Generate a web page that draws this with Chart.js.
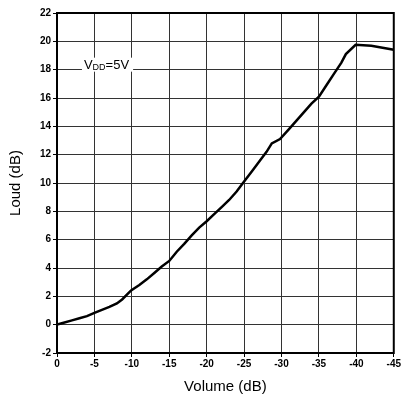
<!DOCTYPE html>
<html>
<head>
<meta charset="utf-8">
<script src="https://cdn.jsdelivr.net/npm/chart.js@4/dist/chart.umd.min.js"></script>
<style>
  html, body { margin: 0; padding: 0; background: #fff; }
  #wrap { width: 402px; height: 401px; }
</style>
</head>
<body>
<div id="wrap"><canvas id="myChart" width="402" height="401"></canvas></div>
<script>
// values
var volume = [0, -1, -2, -3, -4, -5, -6, -7, -8, -8.7, -9.9, -11, -12, -13, -14, -15,
              -16, -17, -18, -19, -20, -21, -22, -23, -24, -25, -26, -27, -28, -28.7,
              -29.8, -31, -32, -33, -34, -35, -36, -37, -38, -38.6, -39.9, -42, -45];
var loud = [0, 0.15, 0.3, 0.45, 0.6, 0.83, 1.05, 1.25, 1.5, 1.78, 2.42, 2.8, 3.2, 3.65, 4.1, 4.5,
            5.15, 5.7, 6.3, 6.85, 7.3, 7.8, 8.3, 8.8, 9.4, 10.1, 10.8, 11.5, 12.2, 12.8,
            13.1, 13.8, 14.4, 15.0, 15.6, 16.1, 16.9, 17.7, 18.5, 19.1, 19.76, 19.68, 19.4];
var xTicks = [0, -5, -10, -15, -20, -25, -30, -35, -40, -45];
var yTicks = [-2, 0, 2, 4, 6, 8, 10, 12, 14, 16, 18, 20, 22];
var noteText = ['V', 'DD', '=5V'];

document.addEventListener('DOMContentLoaded', drawChart);

function drawChart(){
    var points = [];
    for (var i = 0; i < volume.length; i++) {
        points.push({x: volume[i], y: loud[i]});
    }

    var frame = {
        id: 'frame',
        afterDatasetsDraw: function(chart){
            var c = chart.ctx, a = chart.chartArea;
            c.save();
            // note label with white box over the grid
            var xs = chart.scales.x, ys = chart.scales.y;
            var px = xs.getPixelForValue(-3.6), py = ys.getPixelForValue(18);
            c.font = '13px "Liberation Sans", Arial, sans-serif';
            var w1 = c.measureText(noteText[0]).width;
            c.font = '9px "Liberation Sans", Arial, sans-serif';
            var w2 = c.measureText(noteText[1]).width;
            c.font = '13px "Liberation Sans", Arial, sans-serif';
            var w3 = c.measureText(noteText[2]).width;
            c.fillStyle = '#fff';
            c.fillRect(px - 2, py - 12, w1 + w2 + w3 + 6, 14);
            c.fillStyle = '#000';
            c.textBaseline = 'alphabetic';
            c.fillText(noteText[0], px, py - 1);
            c.font = '9px "Liberation Sans", Arial, sans-serif';
            c.fillText(noteText[1], px + w1, py);
            c.font = '13px "Liberation Sans", Arial, sans-serif';
            c.fillText(noteText[2], px + w1 + w2, py - 1);
            // box round the plot
            c.strokeStyle = '#000';
            c.lineWidth = 2;
            c.strokeRect(a.left, a.top, a.right - a.left, a.bottom - a.top);
            c.restore();
        }
    };

    var tickFont = {family: '"Liberation Sans", Arial, sans-serif', size: 10, weight: 'bold'};
    var titleFont = {family: '"Liberation Sans", Arial, sans-serif', size: 15};

    var ctx = document.getElementById('myChart').getContext('2d');
    var chart = new Chart(ctx, {
        type: 'line',
        data: {
            datasets: [{
                data: points,
                borderColor: '#000',
                borderWidth: 2.5,
                pointRadius: 0,
                fill: false,
                lineTension: 0
            }]
        },
        options: {
            responsive: false,
            animation: {duration: 0},
            layout: {padding: {left: 7, right: 6, top: 13, bottom: 5}},
            plugins: {legend: {display: false}, tooltip: {enabled: false}},
            scales: {
                x: {
                    type: 'linear',
                    reverse: true,
                    min: -45, max: 0,
                    afterBuildTicks: function(s){ s.ticks = xTicks.map(function(v){ return {value: v}; }); },
                    afterFit: function(s){ s.height = 43; },
                    ticks: {color: '#000', font: tickFont, padding: 1, maxRotation: 0,
                            callback: function(v){ return String(v); }},
                    grid: {color: '#333', lineWidth: 1, tickLength: 4, tickColor: '#000'},
                    border: {color: '#000', width: 2},
                    title: {display: true, text: 'Volume (dB)', color: '#000', font: titleFont,
                            padding: {top: 0, bottom: 0}}
                },
                y: {
                    type: 'linear',
                    min: -2, max: 22,
                    afterBuildTicks: function(s){ s.ticks = yTicks.map(function(v){ return {value: v}; }); },
                    afterFit: function(s){ s.width = 50; },
                    ticks: {color: '#000', font: tickFont, padding: 2},
                    grid: {color: '#333', lineWidth: 1, tickLength: 4, tickColor: '#000'},
                    border: {color: '#000', width: 2},
                    title: {display: true, text: 'Loud (dB)', color: '#000', font: titleFont,
                            padding: {top: 0, bottom: 0}}
                }
            }
        },
        plugins: [frame]
    });
}
</script>
</body>
</html>
